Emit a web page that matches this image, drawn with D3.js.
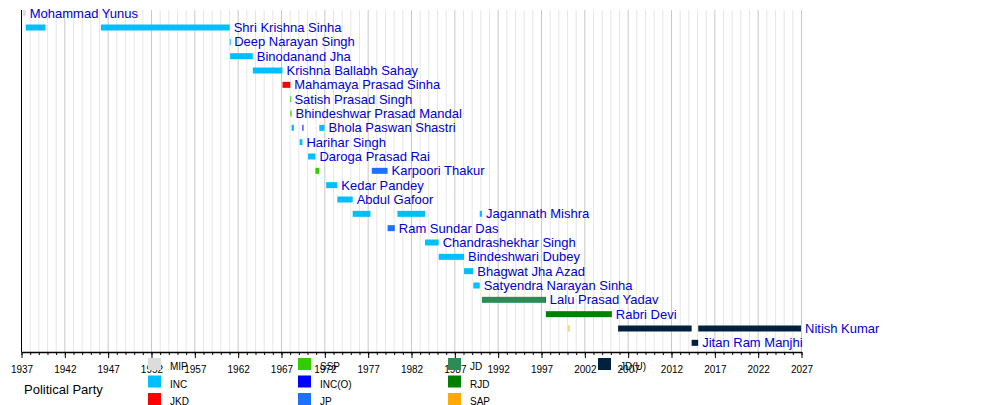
<!DOCTYPE html>
<html>
<head>
<meta charset="utf-8">
<script src="https://cdn.jsdelivr.net/npm/d3@7"></script>
<style>
  html, body { margin: 0; padding: 0; background: #fff; }
  svg { display: block; font-family: "Liberation Sans", Arial, sans-serif; }
</style>
</head>
<body>
<svg id="chart" width="1000" height="405"></svg>
<script>
// ---- data ----
const names = [
  "Mohammad Yunus", "Shri Krishna Sinha", "Deep Narayan Singh", "Binodanand Jha",
  "Krishna Ballabh Sahay", "Mahamaya Prasad Sinha", "Satish Prasad Singh",
  "Bhindeshwar Prasad Mandal", "Bhola Paswan Shastri", "Harihar Singh",
  "Daroga Prasad Rai", "Karpoori Thakur", "Kedar Pandey", "Abdul Gafoor",
  "Jagannath Mishra", "Ram Sundar Das", "Chandrashekhar Singh", "Bindeshwari Dubey",
  "Bhagwat Jha Azad", "Satyendra Narayan Sinha", "Lalu Prasad Yadav", "Rabri Devi",
  "Nitish Kumar", "Jitan Ram Manjhi"
];

const parties = ["MIP", "INC", "JKD", "SSP", "INC(O)", "JP", "JD", "RJD", "SAP", "JD(U)"];
const partyColors = ["#dcdcdc", "#00bfff", "#ff0000", "#33cc00", "#0000ff", "#1e70ff", "#2e8b57", "#008000", "#ffaa00", "#00203f"];

// [name, party, start, end]
const terms = [
  ["Mohammad Yunus", "MIP", "1937-04-01", "1937-07-19"],
  ["Shri Krishna Sinha", "INC", "1937-07-20", "1939-10-31"],
  ["Shri Krishna Sinha", "INC", "1946-03-23", "1961-01-31"],
  ["Deep Narayan Singh", "INC", "1961-02-01", "1961-02-18"],
  ["Binodanand Jha", "INC", "1961-02-18", "1963-10-02"],
  ["Krishna Ballabh Sahay", "INC", "1963-10-02", "1967-03-05"],
  ["Mahamaya Prasad Sinha", "JKD", "1967-03-05", "1968-01-28"],
  ["Satish Prasad Singh", "SSP", "1968-01-28", "1968-02-01"],
  ["Bhindeshwar Prasad Mandal", "SSP", "1968-02-01", "1968-03-22"],
  ["Bhola Paswan Shastri", "INC", "1968-03-22", "1968-06-29"],
  ["Bhola Paswan Shastri", "INC(O)", "1969-06-22", "1969-07-04"],
  ["Bhola Paswan Shastri", "INC", "1971-06-02", "1972-01-09"],
  ["Harihar Singh", "INC", "1969-02-26", "1969-06-22"],
  ["Daroga Prasad Rai", "INC", "1970-02-16", "1970-12-22"],
  ["Karpoori Thakur", "SSP", "1970-12-22", "1971-06-02"],
  ["Karpoori Thakur", "JP", "1977-06-24", "1979-04-21"],
  ["Kedar Pandey", "INC", "1972-03-19", "1973-07-02"],
  ["Abdul Gafoor", "INC", "1973-07-02", "1975-04-11"],
  ["Jagannath Mishra", "INC", "1975-04-11", "1977-04-30"],
  ["Jagannath Mishra", "INC", "1980-06-08", "1983-08-14"],
  ["Jagannath Mishra", "INC", "1989-12-06", "1990-03-10"],
  ["Ram Sundar Das", "JP", "1979-04-21", "1980-02-17"],
  ["Chandrashekhar Singh", "INC", "1983-08-14", "1985-03-12"],
  ["Bindeshwari Dubey", "INC", "1985-03-12", "1988-02-13"],
  ["Bhagwat Jha Azad", "INC", "1988-02-14", "1989-03-10"],
  ["Satyendra Narayan Sinha", "INC", "1989-03-11", "1989-12-06"],
  ["Lalu Prasad Yadav", "JD", "1990-03-10", "1997-06-20"],
  ["Lalu Prasad Yadav", "RJD", "1997-06-20", "1997-07-25"],
  ["Rabri Devi", "RJD", "1997-07-25", "2005-03-06"],
  ["Nitish Kumar", "SAP", "2000-03-03", "2000-03-10"],
  ["Nitish Kumar", "JD(U)", "2005-11-24", "2014-05-20"],
  ["Nitish Kumar", "JD(U)", "2015-02-22", "2027-01-01"],
  ["Jitan Ram Manjhi", "JD(U)", "2014-05-20", "2015-02-20"]
];

const tickYears = [1937, 1942, 1947, 1952, 1957, 1962, 1967, 1972, 1977, 1982, 1987, 1992, 1997, 2002, 2007, 2012, 2017, 2022, 2027];
const axisStartYear = 1937;
const axisEndYear = 2027;
const legendTitle = "Political Party";

// ---- layout ----
const svg = d3.select("#chart");
const plotLeft = 21, plotRight = 801, plotTop = 10, plotBottom = 352;
const parse = d3.timeParse("%Y-%m-%d");

const x = d3.scaleTime()
  .domain([new Date(axisStartYear, 0, 1), new Date(axisEndYear, 0, 1)])
  .range([plotLeft, plotRight]);
const y = d3.scaleBand().domain(names).range([6, 350]).padding(0);
const color = d3.scaleOrdinal().domain(parties).range(partyColors);

const majorDates = tickYears.map(yr => new Date(yr, 0, 1));
const minorYears = d3.timeYear.range(new Date(axisStartYear, 0, 1), new Date(axisEndYear + 1, 0, 1));
const majorSet = new Set(tickYears);

// grid
svg.append("g").selectAll("line").data(minorYears).join("line")
  .attr("x1", d => x(d) + 0.5).attr("x2", d => x(d) + 0.5)
  .attr("y1", plotTop).attr("y2", plotBottom)
  .attr("stroke", d => majorSet.has(d.getFullYear()) ? "#c8c8c8" : "#e6e6e6")
  .attr("stroke-width", 1);

// bars
const barH = 6;
svg.append("g").selectAll("rect").data(terms).join("rect")
  .attr("x", d => x(parse(d[2])))
  .attr("y", d => y(d[0]) + y.bandwidth() / 2 - barH / 2)
  .attr("width", d => Math.max(1, x(parse(d[3])) - x(parse(d[2]))))
  .attr("height", barH)
  .attr("fill", d => color(d[1]));

// labels
const lastEnd = d3.rollup(terms, v => d3.max(v, d => parse(d[3])), d => d[0]);
svg.append("g").selectAll("text").data(names).join("text")
  .attr("x", d => x(lastEnd.get(d)) + 4)
  .attr("y", d => y(d) + y.bandwidth() / 2 + 4.5)
  .attr("font-size", 13)
  .attr("fill", "#0000d0")
  .text(d => d);

// left axis line
svg.append("line")
  .attr("x1", plotLeft + 0.5).attr("x2", plotLeft + 0.5)
  .attr("y1", plotTop).attr("y2", plotBottom)
  .attr("stroke", "#000");

// bottom axis
const minorAxis = d3.axisBottom(x).tickValues(minorYears).tickSize(3).tickFormat("");
const gMinor = svg.append("g").attr("transform", `translate(0.5,${plotBottom})`).call(minorAxis);
gMinor.select(".domain").remove();
gMinor.selectAll("line").attr("stroke", "#000");

const majorAxis = d3.axisBottom(x)
  .tickValues(majorDates)
  .tickSize(6)
  .tickSizeOuter(0)
  .tickPadding(8)
  .tickFormat(d3.timeFormat("%Y"));
const gMajor = svg.append("g").attr("transform", `translate(0.5,${plotBottom})`).call(majorAxis);
gMajor.select(".domain").attr("stroke", "#000").attr("stroke-width", 1.5);
gMajor.selectAll("text").attr("font-size", 10).attr("fill", "#000")
  .attr("font-family", "'Liberation Sans', Arial, sans-serif");

// legend
svg.append("text").attr("x", 24).attr("y", 394).attr("font-size", 13).attr("fill", "#000").text(legendTitle);
const legend = svg.append("g").selectAll("g").data(parties).join("g")
  .attr("transform", (d, i) => `translate(${148 + Math.floor(i / 3) * 150},${358 + (i % 3) * 17.5})`);
legend.append("rect").attr("width", 13).attr("height", 12).attr("fill", d => color(d));
legend.append("text").attr("x", 22).attr("y", 12).attr("font-size", 10).attr("fill", "#000").text(d => d);
</script>
</body>
</html>
